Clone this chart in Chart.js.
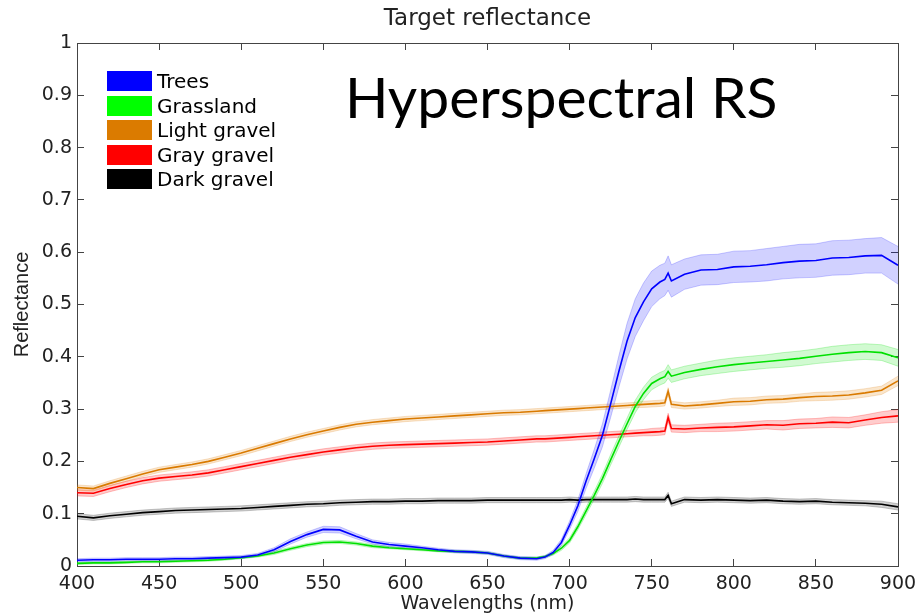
<!DOCTYPE html>
<html><head><meta charset="utf-8">
<script src="https://cdn.jsdelivr.net/npm/chart.js@4.4.1/dist/chart.umd.min.js"></script>
<style>
html,body{margin:0;padding:0;background:#fff;}
#wrap{position:relative;width:916px;height:616px;overflow:hidden;}
#c{position:absolute;left:0;top:0;}
#legend{position:absolute;left:107px;top:69px;font-family:"DejaVu Sans";font-size:20px;color:#000;}
.row{display:flex;align-items:center;height:24.5px;}
.sw{width:45px;height:20px;margin-right:5px;}
#big{position:absolute;left:345px;top:68px;font-family:Lato;font-size:57px;line-height:1;color:#000;white-space:nowrap;}
</style></head>
<body><div id="wrap"><canvas id="c" width="916" height="616"></canvas><div id="legend"></div><div id="big">Hyperspectral RS</div></div>
<script>
const wavelengths = [400,410,420,430,440,450,460,470,480,490,500,510,520,530,540,550,560,570,580,590,600,610,620,630,640,650,660,670,680,
 685,690,695,700,705,710,715,720,725,730,735,740,745,750,755,
 758,760,762,
 770,780,790,800,810,820,830,840,850,860,870,880,890,900];

const trees = [0.011,0.012,0.012,0.013,0.013,0.013,0.014,0.014,0.015,0.016,0.017,0.021,0.031,0.047,0.060,0.070,0.069,0.057,0.046,0.041,0.038,0.035,0.031,0.028,0.027,0.025,0.019,0.015,0.014,
 0.017,0.026,0.045,0.078,0.115,0.162,0.205,0.250,0.310,0.372,0.430,0.475,0.505,0.530,0.543,
 0.548,0.560,0.545,
 0.558,0.566,0.567,0.572,0.573,0.576,0.580,0.583,0.584,0.589,0.590,0.593,0.594,0.575];
const treesSd = [0.003,0.003,0.003,0.003,0.003,0.003,0.003,0.003,0.003,0.003,0.003,0.003,0.004,0.005,0.005,0.006,0.006,0.005,0.004,0.004,0.004,0.003,0.003,0.003,0.003,0.003,0.003,0.003,0.003,
 0.003,0.004,0.006,0.008,0.011,0.014,0.018,0.022,0.026,0.030,0.034,0.036,0.036,0.034,0.032,
 0.031,0.033,0.031,
 0.029,0.029,0.029,0.030,0.030,0.031,0.031,0.032,0.032,0.033,0.033,0.033,0.034,0.036];

const grassland = [0.005,0.006,0.006,0.007,0.008,0.008,0.009,0.010,0.011,0.013,0.016,0.019,0.025,0.033,0.040,0.045,0.046,0.043,0.038,0.035,0.033,0.031,0.029,0.028,0.027,0.025,0.019,0.015,0.015,
 0.018,0.024,0.034,0.049,0.075,0.105,0.135,0.167,0.203,0.238,0.272,0.305,0.330,0.349,0.358,
 0.362,0.372,0.363,
 0.370,0.376,0.381,0.385,0.388,0.391,0.394,0.397,0.401,0.405,0.408,0.410,0.408,0.398];
const grasslandSd = [0.002,0.002,0.002,0.002,0.002,0.002,0.002,0.002,0.002,0.002,0.002,0.002,0.003,0.003,0.003,0.003,0.003,0.003,0.003,0.002,0.002,0.002,0.002,0.002,0.002,0.002,0.002,0.002,0.002,
 0.002,0.003,0.004,0.005,0.006,0.007,0.008,0.009,0.010,0.011,0.011,0.012,0.012,0.012,0.012,
 0.012,0.013,0.012,
 0.012,0.012,0.013,0.013,0.013,0.013,0.014,0.014,0.014,0.015,0.015,0.015,0.015,0.016];

const lightGravel = [0.150,0.148,0.158,0.167,0.176,0.184,0.189,0.194,0.200,0.208,0.216,0.225,0.234,0.243,0.251,0.258,0.265,0.271,0.275,0.278,0.281,0.283,0.285,0.287,0.289,0.291,0.293,0.294,0.296,
 0.297,0.298,0.299,0.300,0.301,0.302,0.303,0.304,0.305,0.306,0.307,0.308,0.309,0.310,0.311,
 0.312,0.334,0.309,
 0.306,0.308,0.311,0.314,0.315,0.318,0.319,0.322,0.324,0.325,0.327,0.331,0.336,0.354];
const lightGravelSd = [0.005,0.005,0.005,0.005,0.005,0.005,0.005,0.005,0.005,0.005,0.005,0.005,0.005,0.005,0.005,0.005,0.005,0.005,0.005,0.005,0.005,0.005,0.005,0.005,0.005,0.005,0.005,0.005,0.005,
 0.005,0.005,0.005,0.005,0.005,0.005,0.005,0.005,0.005,0.005,0.005,0.005,0.006,0.006,0.006,
 0.006,0.007,0.006,
 0.006,0.006,0.006,0.007,0.007,0.007,0.007,0.007,0.008,0.008,0.008,0.008,0.008,0.009];

const grayGravel = [0.140,0.139,0.148,0.156,0.163,0.168,0.171,0.174,0.178,0.184,0.190,0.196,0.202,0.208,0.213,0.218,0.222,0.226,0.229,0.231,0.232,0.233,0.234,0.235,0.236,0.237,0.239,0.241,0.243,
 0.243,0.244,0.245,0.246,0.247,0.248,0.249,0.250,0.251,0.252,0.253,0.254,0.255,0.256,0.257,
 0.258,0.284,0.263,
 0.262,0.264,0.265,0.266,0.268,0.270,0.269,0.272,0.273,0.275,0.274,0.279,0.284,0.287];
const grayGravelSd = [0.006,0.006,0.006,0.006,0.006,0.006,0.006,0.006,0.006,0.006,0.006,0.006,0.006,0.006,0.006,0.006,0.006,0.006,0.006,0.006,0.006,0.006,0.006,0.006,0.006,0.006,0.006,0.006,0.006,
 0.006,0.006,0.006,0.006,0.006,0.006,0.006,0.006,0.006,0.006,0.006,0.006,0.006,0.007,0.007,
 0.007,0.008,0.007,
 0.007,0.007,0.008,0.008,0.008,0.008,0.009,0.009,0.009,0.010,0.010,0.010,0.011,0.012];

const darkGravel = [0.095,0.092,0.096,0.099,0.102,0.104,0.106,0.107,0.108,0.109,0.110,0.112,0.114,0.116,0.118,0.119,0.121,0.122,0.123,0.123,0.124,0.124,0.125,0.125,0.125,0.126,0.126,0.126,0.126,
 0.126,0.126,0.126,0.127,0.126,0.127,0.127,0.127,0.127,0.127,0.127,0.128,0.127,0.127,0.127,
 0.127,0.135,0.119,
 0.127,0.126,0.127,0.126,0.125,0.126,0.124,0.123,0.124,0.122,0.121,0.120,0.118,0.113];
const darkGravelSd = [0.005,0.005,0.005,0.005,0.005,0.005,0.005,0.005,0.005,0.005,0.005,0.005,0.005,0.005,0.005,0.005,0.005,0.005,0.005,0.005,0.005,0.005,0.005,0.005,0.005,0.005,0.005,0.005,0.005,
 0.005,0.005,0.005,0.005,0.005,0.005,0.005,0.005,0.005,0.005,0.005,0.005,0.005,0.005,0.005,
 0.005,0.006,0.005,
 0.005,0.005,0.005,0.005,0.005,0.005,0.005,0.005,0.005,0.005,0.005,0.005,0.006,0.006];

const seriesNames = ['Trees','Grassland','Light gravel','Gray gravel','Dark gravel'];
const xTicks = [400,450,500,550,600,650,700,750,800,850,900];
const xTickLabels = ['400','450','500','550','600','650','700','750','800','850','900'];
const yTicks = [0,0.1,0.2,0.3,0.4,0.5,0.6,0.7,0.8,0.9,1];
const yTickLabels = ['0','0.1','0.2','0.3','0.4','0.5','0.6','0.7','0.8','0.9','1'];

const seriesMeans = [trees, grassland, lightGravel, grayGravel, darkGravel];
const seriesSds = [treesSd, grasslandSd, lightGravelSd, grayGravelSd, darkGravelSd];
const lineColors = ['#0000ff','#00e000','#d97a00','#ff0000','#000000'];
const swatchColors = ['#0000ff','#00ff00','#db7b00','#ff0000','#000000'];
const bandFills = ['rgba(0,0,255,0.18)','rgba(0,230,0,0.18)','rgba(230,130,0,0.2)','rgba(255,0,0,0.2)','rgba(0,0,0,0.18)'];
const bandEdges = ['rgba(0,0,255,0.25)','rgba(0,220,0,0.3)','rgba(220,120,0,0.25)','rgba(255,0,0,0.3)','rgba(0,0,0,0.25)'];

const datasets = [];
seriesMeans.forEach((m, k) => {
  const sd = seriesSds[k];
  datasets.push({label: seriesNames[k]+' upper', data: wavelengths.map((w,i)=>({x:w,y:m[i]+sd[i]})),
    borderColor: bandEdges[k], borderWidth: 0.8, backgroundColor: bandFills[k], fill: '+1', pointRadius: 0, order: 5});
  datasets.push({label: seriesNames[k]+' lower', data: wavelengths.map((w,i)=>({x:w,y:m[i]-sd[i]})),
    borderColor: bandEdges[k], borderWidth: 0.8, fill: false, pointRadius: 0, order: 5});
});
seriesMeans.forEach((m, k) => {
  datasets.push({label: seriesNames[k], data: wavelengths.map((w,i)=>({x:w,y:m[i]})),
    borderColor: lineColors[k], borderWidth: 1.6, fill: false, pointRadius: 0, order: 1});
});

// legend (HTML, real text)
const lg = document.getElementById('legend');
seriesNames.forEach((n,k)=>{
  const r = document.createElement('div'); r.className='row';
  const s = document.createElement('div'); s.className='sw'; s.style.background = swatchColors[k];
  const t = document.createElement('span'); t.textContent = n;
  r.appendChild(s); r.appendChild(t); lg.appendChild(r);
});

const tickFont = {family:'DejaVu Sans', size:19};
const axisCol = '#444';
const setX = s => { s.ticks = xTicks.map(v=>({value:v})); };
const setY = s => { s.ticks = yTicks.map(v=>({value:v})); };
const noPad = s => { s.paddingLeft = 0; s.paddingRight = 0; s.paddingTop = 0; s.paddingBottom = 0; };

new Chart(document.getElementById('c'), {
  type: 'line',
  data: {datasets},
  options: {
    responsive: false, animation: false,
    layout: {padding: 0},
    plugins: {legend:{display:false}, tooltip:{enabled:false}, title:{display:false}},
    elements: {line:{tension:0}},
    scales: {
      x: {type:'linear', position:'bottom', min:400, max:900, afterBuildTicks:setX,
        ticks:{font:tickFont, color:'#222', padding:14, maxRotation:0, autoSkip:false,
          callback:(v)=>{ const i = xTicks.indexOf(v); return i>=0 ? xTickLabels[i] : ''; }},
        grid:{drawOnChartArea:false, tickLength:-7, color:axisCol},
        border:{color:axisCol, width:1},
        title:{display:true, text:'Wavelengths (nm)', font:{family:'DejaVu Sans', size:19}, color:'#222', padding:{top:0,bottom:1}},
        afterFit: s => { s.height = 50; noPad(s); }},
      x2: {type:'linear', position:'top', min:400, max:900, afterBuildTicks:setX,
        ticks:{display:false},
        grid:{drawOnChartArea:false, tickLength:-7, color:axisCol},
        border:{color:axisCol, width:1},
        title:{display:true, text:'Target reflectance', font:{family:'DejaVu Sans', size:23}, color:'#222', padding:{top:5,bottom:0}},
        afterFit: s => { s.height = 43; noPad(s); }},
      y: {type:'linear', position:'left', min:0, max:1, afterBuildTicks:setY,
        ticks:{font:tickFont, color:'#222', padding:12,
          callback:(v)=>{ const i = yTicks.findIndex(t=>Math.abs(t-v)<1e-9); return i>=0 ? yTickLabels[i] : ''; }},
        grid:{drawOnChartArea:false, tickLength:-7, color:axisCol},
        border:{color:axisCol, width:1},
        title:{display:true, text:'Reflectance', font:{family:'Liberation Sans', size:20}, color:'#222', padding:{top:10,bottom:0}},
        afterFit: s => { s.width = 77; noPad(s); }},
      y2: {type:'linear', position:'right', min:0, max:1, afterBuildTicks:setY,
        ticks:{display:false},
        grid:{drawOnChartArea:false, tickLength:-7, color:axisCol},
        border:{color:axisCol, width:1},
        afterFit: s => { s.width = 18; noPad(s); }}
    }
  }
});
</script>
</body></html>
